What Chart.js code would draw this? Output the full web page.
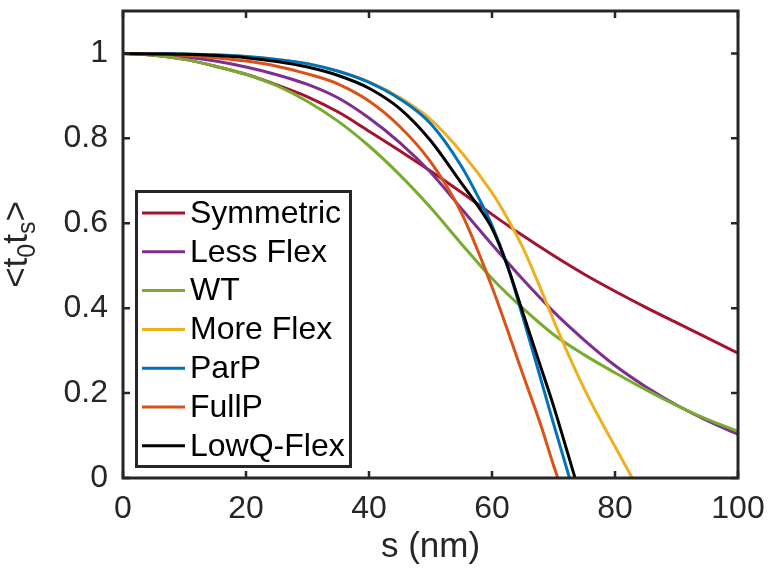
<!DOCTYPE html>
<html>
<head>
<meta charset="utf-8">
<title>&lt;t0ts&gt; vs s</title>
<script src="https://cdn.jsdelivr.net/npm/chart.js@4.4.1/dist/chart.umd.min.js"></script>
<style>
  html, body { margin: 0; padding: 0; background: #fff; }
  #wrap { width: 768px; height: 578px; }
</style>
</head>
<body>
<div id="wrap"><canvas id="chart" width="768" height="578"></canvas></div>
<script>
// Datos (s en nm)
const seriesNames = ['Symmetric', 'Less Flex', 'WT', 'More Flex', 'ParP', 'FullP', 'LowQ-Flex'];
const seriesColors = ['#A2142F', '#7E2F8E', '#77AC30', '#EDB120', '#0072BD', '#D95319', '#000000'];

const xTicks = [0, 20, 40, 60, 80, 100];
const yTicks = [0, 0.2, 0.4, 0.6, 0.8, 1];

const commonX = [0, 5, 10, 15, 20, 25, 30, 35, 40, 45, 50, 55, 60, 65, 70, 75, 80, 85, 90, 95, 100];
const symmetricY = [1, 0.996, 0.986, 0.97, 0.951, 0.926, 0.898, 0.862, 0.817, 0.771, 0.723, 0.673, 0.621, 0.571, 0.524, 0.48, 0.44, 0.402, 0.366, 0.33, 0.294];
const lessFlexY = [1, 0.998, 0.992, 0.982, 0.968, 0.95, 0.927, 0.895, 0.848, 0.79, 0.72, 0.635, 0.55, 0.468, 0.392, 0.325, 0.265, 0.215, 0.172, 0.135, 0.103];
const wtY = [1, 0.996, 0.986, 0.97, 0.951, 0.924, 0.887, 0.84, 0.782, 0.714, 0.637, 0.552, 0.47, 0.4, 0.338, 0.29, 0.248, 0.208, 0.171, 0.138, 0.11];

const moreFlexX = [0, 5, 10, 15, 20, 25, 30, 35, 40, 45, 50, 55, 60, 62.5, 65, 67.5, 70, 72.5, 75, 77.5, 80, 82.8];
const moreFlexY = [1, 1, 0.999, 0.997, 0.993, 0.986, 0.976, 0.958, 0.933, 0.896, 0.845, 0.768, 0.672, 0.612, 0.543, 0.46, 0.372, 0.288, 0.21, 0.14, 0.074, 0];

const parPX = [0, 5, 10, 15, 20, 25, 30, 35, 40, 45, 50, 55, 58, 60, 62.5, 65, 67.5, 70, 72.6];
const parPY = [1, 1, 0.999, 0.997, 0.993, 0.986, 0.976, 0.958, 0.932, 0.893, 0.835, 0.735, 0.655, 0.595, 0.5, 0.38, 0.255, 0.128, 0];

const fullPX = [0, 5, 10, 15, 20, 25, 30, 35, 40, 45, 50, 55, 60, 65, 68, 70, 70.7];
const fullPY = [1, 0.999, 0.996, 0.99, 0.982, 0.97, 0.952, 0.928, 0.888, 0.828, 0.745, 0.625, 0.45, 0.245, 0.122, 0.03, 0];

const lowQX = [0, 5, 10, 15, 20, 25, 30, 35, 40, 45, 50, 55, 57.5, 60, 62.5, 65, 67.5, 70, 73.5];
const lowQY = [1, 0.999, 0.998, 0.995, 0.99, 0.981, 0.968, 0.948, 0.918, 0.87, 0.795, 0.695, 0.645, 0.588, 0.5, 0.39, 0.28, 0.17, 0];

const seriesX = [commonX, commonX, commonX, moreFlexX, parPX, fullPX, lowQX];
const seriesY = [symmetricY, lessFlexY, wtY, moreFlexY, parPY, fullPY, lowQY];

// Estilo
const FONT = '"Liberation Sans", Arial, Helvetica, sans-serif';
const AXIS_COLOR = '#262626';
const TICK_LEN = 7;

const toPoints = (xs, ys) => xs.map((x, i) => ({ x, y: ys[i] }));

const datasets = seriesNames.map((name, i) => ({
  label: name,
  data: toPoints(seriesX[i], seriesY[i]),
  borderColor: seriesColors[i],
  backgroundColor: seriesColors[i],
  borderWidth: 3,
  pointRadius: 0,
  fill: false,
  cubicInterpolationMode: 'monotone',
  order: seriesNames.length - i // el último queda encima, como en MATLAB
}));

// Sin relleno extra de Chart.js alrededor de las escalas
const noScalePadding = s => {
  s.paddingTop = 0; s.paddingBottom = 0; s.paddingLeft = 0; s.paddingRight = 0;
};

// Marco completo con marcas hacia dentro
const framePlugin = {
  id: 'frame',
  afterDraw(chart) {
    const { ctx, chartArea: a, scales } = chart;
    ctx.save();
    ctx.strokeStyle = AXIS_COLOR;
    ctx.lineWidth = 2.5;
    ctx.beginPath();
    xTicks.forEach(v => {
      const px = scales.x.getPixelForValue(v);
      ctx.moveTo(px, a.bottom); ctx.lineTo(px, a.bottom - TICK_LEN);
      ctx.moveTo(px, a.top); ctx.lineTo(px, a.top + TICK_LEN);
    });
    yTicks.forEach(v => {
      const py = scales.y.getPixelForValue(v);
      ctx.moveTo(a.left, py); ctx.lineTo(a.left + TICK_LEN, py);
      ctx.moveTo(a.right, py); ctx.lineTo(a.right - TICK_LEN, py);
    });
    ctx.stroke();
    ctx.lineWidth = 3;
    ctx.strokeRect(a.left, a.top, a.right - a.left, a.bottom - a.top);
    ctx.restore();
  }
};

// Leyenda dentro del área, abajo a la izquierda
const legendPlugin = {
  id: 'insideLegend',
  afterDraw(chart) {
    const { ctx } = chart;
    const box = { x: 136.5, y: 191.5, w: 214, h: 275 };
    const rowH = 38.8;
    ctx.save();
    ctx.fillStyle = '#fff';
    ctx.fillRect(box.x, box.y, box.w, box.h);
    ctx.strokeStyle = AXIS_COLOR;
    ctx.lineWidth = 3;
    ctx.strokeRect(box.x, box.y, box.w, box.h);
    ctx.font = '32px ' + FONT;
    ctx.textBaseline = 'middle';
    ctx.textAlign = 'left';
    chart.data.datasets.forEach((ds, i) => {
      const y = 213 + i * rowH;
      ctx.strokeStyle = ds.borderColor;
      ctx.lineWidth = 3;
      ctx.beginPath();
      ctx.moveTo(142, y);
      ctx.lineTo(185, y);
      ctx.stroke();
      ctx.fillStyle = '#000';
      ctx.fillText(ds.label, 190, y + 1);
    });
    ctx.restore();
  }
};

// Título del eje y con subíndices: <t_0 t_s>
const yTitlePlugin = {
  id: 'yTitle',
  afterDraw(chart) {
    const { ctx, chartArea: a } = chart;
    const parts = [
      { t: '<t', size: 35, dy: 0 },
      { t: '0', size: 25, dy: 8 },
      { t: 't', size: 35, dy: 0 },
      { t: 's', size: 25, dy: 8 },
      { t: '>', size: 35, dy: 0 }
    ];
    ctx.save();
    let total = 0;
    parts.forEach(p => { ctx.font = p.size + 'px ' + FONT; p.w = ctx.measureText(p.t).width; total += p.w; });
    ctx.translate(27, (a.top + a.bottom) / 2);
    ctx.rotate(-Math.PI / 2);
    ctx.fillStyle = AXIS_COLOR;
    ctx.textBaseline = 'alphabetic';
    let x = -total / 2;
    parts.forEach(p => {
      ctx.font = p.size + 'px ' + FONT;
      ctx.fillText(p.t, x, p.dy);
      x += p.w;
    });
    ctx.restore();
  }
};

const tickFont = { family: FONT, size: 32 };

new Chart(document.getElementById('chart'), {
  type: 'line',
  data: { datasets },
  options: {
    responsive: false,
    devicePixelRatio: 1,
    animation: false,
    layout: { padding: { left: 0, right: 30, top: 11, bottom: 0 } },
    plugins: { legend: { display: false }, tooltip: { enabled: false } },
    scales: {
      x: {
        type: 'linear',
        min: 0,
        max: 100,
        afterBuildTicks: s => { s.ticks = xTicks.map(v => ({ value: v })); },
        afterFit: s => { s.height = 100; noScalePadding(s); },
        grid: { display: false, drawTicks: false },
        border: { display: false },
        ticks: { font: tickFont, color: AXIS_COLOR, padding: 12, maxRotation: 0, autoSkip: false, callback: v => String(v) },
        title: { display: true, text: 's (nm)', font: { family: FONT, size: 35 }, color: AXIS_COLOR, padding: { top: 0, bottom: 10 } }
      },
      y: {
        type: 'linear',
        min: 0,
        max: 1.1,
        afterBuildTicks: s => { s.ticks = yTicks.map(v => ({ value: v })); },
        afterFit: s => { s.width = 123; noScalePadding(s); },
        grid: { display: false, drawTicks: false },
        border: { display: false },
        ticks: { font: tickFont, color: AXIS_COLOR, padding: 15, autoSkip: false, callback: v => String(v) }
      }
    }
  },
  plugins: [framePlugin, legendPlugin, yTitlePlugin]
});
</script>
</body>
</html>
